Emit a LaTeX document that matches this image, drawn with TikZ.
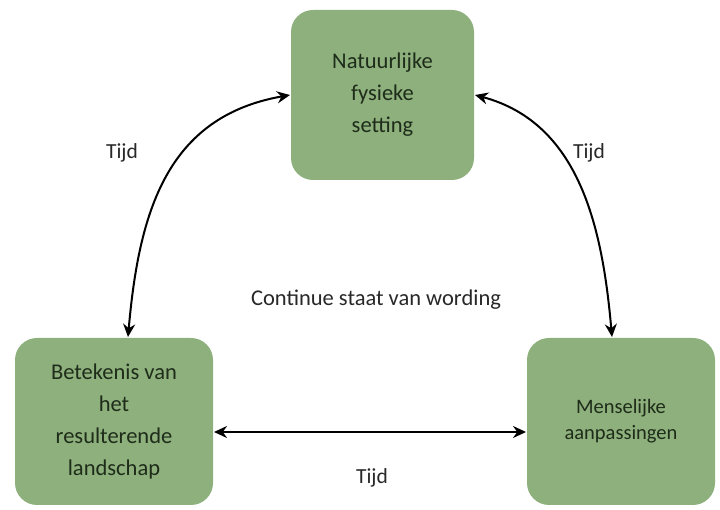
\documentclass[tikz,border=0pt]{standalone}
\usepackage{fontspec}
\setmainfont{Carlito}
\usetikzlibrary{arrows.meta}

\definecolor{boxgreen}{RGB}{141,176,125}
\definecolor{boxtext}{RGB}{30,44,25}
\definecolor{labeltext}{RGB}{40,40,40}
\def\boxradius{22pt}

\begin{document}
\begin{tikzpicture}[x=1pt,y=1pt,<->,>={Stealth[length=13pt,width=12pt]},line width=2pt]
        \tikzstyle{stage}=[rectangle,rounded corners=\boxradius,fill=boxgreen,text=boxtext,align=center,inner sep=0pt,font=\fontsize{22.5}{32}\selectfont]
        \tikzstyle{annot}=[text=labeltext,font=\fontsize{21.5}{26}\selectfont]

        \useasboundingbox (0,0) rectangle (720,510);

        % Draw the three stages
        \node[stage,minimum width=183pt,minimum height=170pt] (N) at (382.5,415) {Natuurlijke\\fysieke\\setting};
        \node[stage,minimum width=198pt,minimum height=167pt] (B) at (114,88.5) {Betekenis van\\het\\resulterende\\landschap};
        \node[stage,minimum width=188pt,minimum height=167pt,font=\fontsize{20.5}{26}\selectfont] (M) at (621,88.5) {Menselijke\\aanpassingen};

        % Connect the stages
        \draw ([xshift=14pt]B.north) to[out=85,in=190,looseness=1.1] (N.west);
        \draw (N.east) to[out=-15,in=95] ([xshift=-9pt]M.north);
        \draw ([yshift=-10.5pt]B.east) -- ([yshift=-10.5pt]M.west);

        % Annotate the arrows
        \node[annot] (t1) at (122,357) {Tijd};
        \node[annot] (t2) at (589,357) {Tijd};
        \node[annot] (t3) at (372,32) {Tijd};
        \node[annot,font=\fontsize{22.5}{27}\selectfont] (cw) at (376,210) {Continue staat van wording};
\end{tikzpicture}
\end{document}
